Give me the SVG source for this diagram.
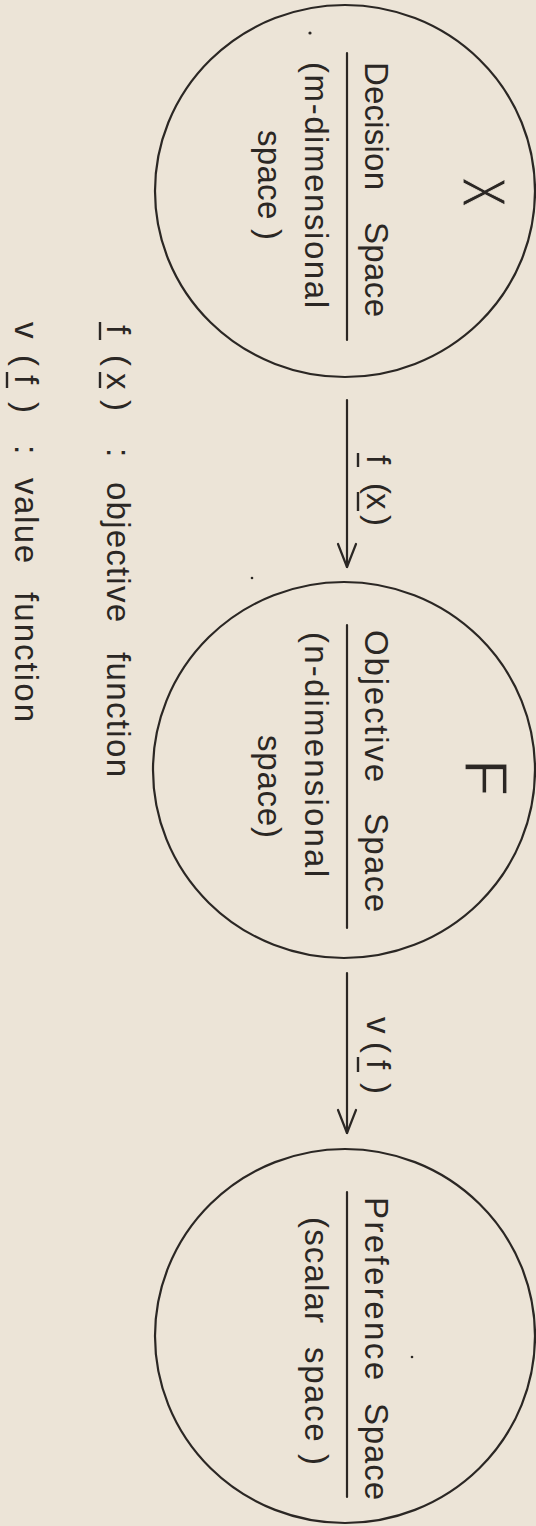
<svg xmlns="http://www.w3.org/2000/svg" width="536" height="1526" viewBox="0 0 536 1526">
<style>
.bg{fill:#ece4d7}
.ln{stroke:#2b2724;stroke-width:2.2;fill:none;stroke-linecap:round}
.ul{stroke:#2b2724;stroke-width:2.4;stroke-linecap:butt}
.t{font-family:"Liberation Sans",Arial,sans-serif;font-size:33px;fill:#2b2724}
.sym{font-family:"Liberation Sans",Arial,sans-serif;font-size:61px;fill:#2b2724;stroke:#ece4d7;stroke-width:1.1}
.dot{fill:#2b2724}
</style>
<defs>
<marker id="ah" markerWidth="28" markerHeight="24" refX="25" refY="12" orient="auto" markerUnits="userSpaceOnUse">
<path d="M2,3 L25,12 L2,21" fill="none" stroke="#2b2724" stroke-width="2.2" stroke-linecap="round" stroke-linejoin="round"/>
</marker>
</defs>
<rect class="bg" x="0" y="0" width="536" height="1526"/>
<g transform="translate(536,0) rotate(90)">
  <g id="decision-space">
    <ellipse class="ln" cx="191" cy="191" rx="186" ry="190"/>
    <text class="sym" transform="translate(192,73) scale(0.73,1)" text-anchor="middle">X</text>
    <text class="t" y="171"><tspan x="62" textLength="128" lengthAdjust="spacing">Decision</tspan> <tspan x="222" textLength="95" lengthAdjust="spacing">Space</tspan></text>
    <line class="ln" x1="53" y1="189" x2="340" y2="189"/>
    <text class="t" x="62" y="231" textLength="246" lengthAdjust="spacing">(m-dimensional</text>
    <text class="t" x="130" y="278" textLength="110" lengthAdjust="spacing">space )</text>
  </g>
  <g id="objective-space">
    <ellipse class="ln" cx="770" cy="192" rx="188" ry="191"/>
    <text class="sym" x="759" y="71" font-size="60">F</text>
    <text class="t" y="171"><tspan x="630" textLength="152" lengthAdjust="spacing">Objective</tspan> <tspan x="813" textLength="99" lengthAdjust="spacing">Space</tspan></text>
    <line class="ln" x1="625" y1="189" x2="928" y2="189"/>
    <text class="t" x="632" y="231" textLength="245" lengthAdjust="spacing">(n-dimensional</text>
    <text class="t" x="735" y="278" textLength="103" lengthAdjust="spacing">space)</text>
  </g>
  <g id="preference-space">
    <ellipse class="ln" cx="1336" cy="191" rx="187" ry="190"/>
    <text class="t" y="171"><tspan x="1197" textLength="183" lengthAdjust="spacing">Preference</tspan> <tspan x="1403" textLength="97" lengthAdjust="spacing">Space</tspan></text>
    <line class="ln" x1="1192" y1="189" x2="1497" y2="189"/>
    <text class="t" y="231"><tspan x="1217" textLength="106" lengthAdjust="spacing">(scalar</tspan> <tspan x="1347" textLength="118" lengthAdjust="spacing">space )</tspan></text>
  </g>
  <g id="connectors">
    <line class="ln" x1="400" y1="189" x2="567" y2="189" marker-end="url(#ah)"/>
    <text class="t" y="169" x="455 470 483 493 515">f (x)</text>
    <line class="ul" x1="453" y1="178" x2="467" y2="178"/>
    <line class="ul" x1="492" y1="178" x2="511" y2="178"/>
    <line class="ln" x1="973" y1="189" x2="1133" y2="189" marker-end="url(#ah)"/>
    <text class="t" y="169" x="1017 1042 1060 1083">v(f)</text>
    <line class="ul" x1="1057" y1="178" x2="1072" y2="178"/>
  </g>
  <g id="legend">
    <text class="t" y="429"><tspan x="325 340 355 373 400">f (x)</tspan> <tspan x="448">:</tspan> <tspan x="482" textLength="140" lengthAdjust="spacing">objective</tspan> <tspan x="652" textLength="125" lengthAdjust="spacing">function</tspan></text>
    <line class="ul" x1="322" y1="436" x2="340" y2="436"/>
    <line class="ul" x1="372" y1="436" x2="388" y2="436"/>
    <text class="t" y="521"><tspan x="322 340 355 375 402">v (f)</tspan> <tspan x="445">:</tspan> <tspan x="478" textLength="85" lengthAdjust="spacing">value</tspan> <tspan x="592" textLength="130" lengthAdjust="spacing">function</tspan></text>
    <line class="ul" x1="372" y1="529" x2="388" y2="529"/>
  </g>
  <g id="specks">
    <circle class="dot" cx="33" cy="226" r="1.6"/>
    <circle class="dot" cx="578" cy="284" r="1.3"/>
    <circle class="dot" cx="1357" cy="124" r="1.3"/>
  </g>
</g>
</svg>
